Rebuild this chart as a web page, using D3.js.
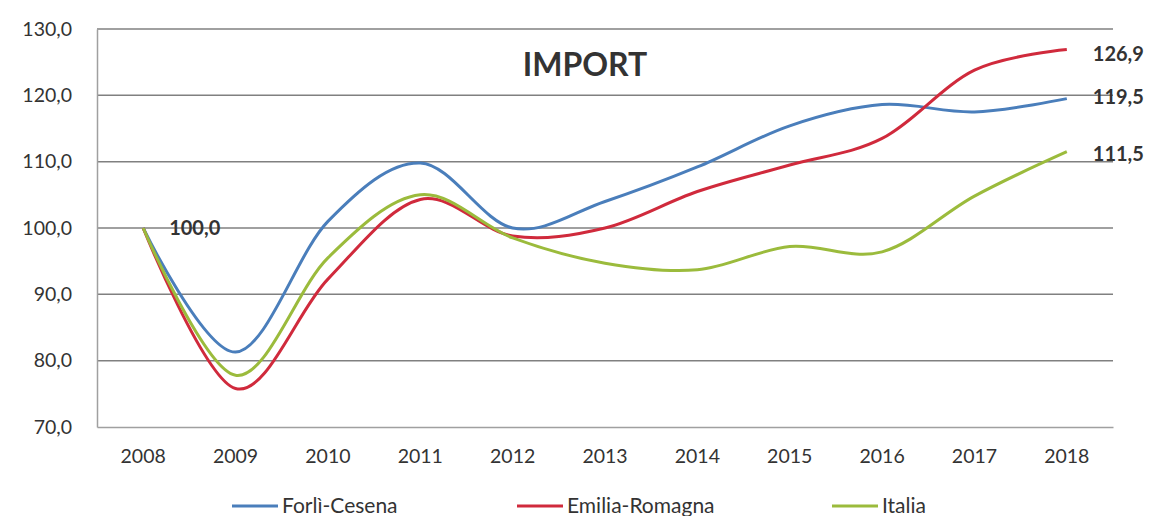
<!DOCTYPE html>
<html>
<head>
<meta charset="utf-8">
<script src="https://cdn.jsdelivr.net/npm/d3@7"></script>
<style>
  body { margin: 0; background: #fff; }
  text { font-family: Lato, "Open Sans", sans-serif; fill: #333; }
</style>
</head>
<body>
<div id="chart"></div>
<script>
// Set size constants
var totWidth = 1158,
    totHeight = 516;
var margins = {top: 29, right: 45, bottom: 89, left: 97};
var width = totWidth - margins.left - margins.right,
    height = totHeight - margins.top - margins.bottom;

// Data
var years = ["2008","2009","2010","2011","2012","2013","2014","2015","2016","2017","2018"];
var forliCesena   = [100, 81.3, 101.0, 109.8, 100.0, 104.0, 109.2, 115.4, 118.6, 117.5, 119.5];
var emiliaRomagna = [100, 75.8, 92.3, 104.3, 98.8, 100.0, 105.5, 109.5, 113.5, 123.8, 126.9];
var italia        = [100, 77.8, 95.5, 105.0, 98.5, 94.7, 93.7, 97.2, 96.4, 104.8, 111.5];
var seriesNames = ["Forlì-Cesena", "Emilia-Romagna", "Italia"];
var yTicks = [70, 80, 90, 100, 110, 120, 130];

var series = [
  {name: seriesNames[0], values: forliCesena,   color: "#4a7ebb"},
  {name: seriesNames[1], values: emiliaRomagna, color: "#d02a3c"},
  {name: seriesNames[2], values: italia,        color: "#9bbb3c"}
];

var fmt = function(v) { return d3.format(".1f")(v).replace(".", ","); };

var svg = d3.select("#chart")
  .append("svg")
    .attr("width", totWidth)
    .attr("height", totHeight)
  .append("g")
    .attr("transform", "translate(" + margins.left + "," + margins.top + ")");

var x = d3.scaleBand()
  .domain(years)
  .range([0, width]);

var y = d3.scaleLinear()
  .domain([70, 130])
  .range([height, 0]);

// grid lines
svg.append("g")
  .selectAll("line")
  .data(yTicks.slice(1))
  .enter()
  .append("line")
    .attr("x1", 0)
    .attr("x2", width)
    .attr("y1", function(d) { return y(d); })
    .attr("y2", function(d) { return y(d); })
    .attr("stroke", "#808080")
    .attr("stroke-width", 1.5);

// Y axis
var yAxis = svg.append("g")
  .call(d3.axisLeft(y)
    .tickValues(yTicks)
    .tickSize(0)
    .tickPadding(25)
    .tickFormat(fmt));
yAxis.select(".domain").attr("stroke", "#a0a0a0").attr("stroke-width", 1.5);
yAxis.selectAll("text").style("font-size", "19.5px").attr("fill", "#444");

// X axis
var xAxis = svg.append("g")
  .attr("transform", "translate(0," + height + ")")
  .call(d3.axisBottom(x).tickSize(0).tickPadding(22));
xAxis.select(".domain").attr("stroke", "#a0a0a0").attr("stroke-width", 1.5);
xAxis.selectAll("text").style("font-size", "19.5px").attr("fill", "#444");

// Title
svg.append("text")
  .attr("x", 488)
  .attr("y", 47)
  .attr("text-anchor", "middle")
  .style("font-size", "32px")
  .style("font-weight", "bold")
  .attr("fill", "#111")
  .text("IMPORT");

// Lines
var line = d3.line()
  .x(function(d, i) { return x(years[i]) + x.bandwidth() / 2; })
  .y(function(d) { return y(d); })
  .curve(d3.curveCardinal.tension(0));

svg.selectAll("path.series")
  .data(series)
  .enter()
  .append("path")
    .attr("class", "series")
    .attr("fill", "none")
    .attr("stroke", function(d) { return d.color; })
    .attr("stroke-width", 3)
    .attr("d", function(d) { return line(d.values); });

// Data labels
svg.append("text")
  .attr("x", x(years[0]) + x.bandwidth() / 2 + 26)
  .attr("y", y(100))
  .attr("dy", "0.35em")
  .style("font-size", "20px")
  .style("font-weight", "bold")
  .attr("fill", "#111")
  .text(fmt(100));

var lastIdx = years.length - 1;
var endOffsets = [-2, 4, 2];
series.forEach(function(s, i) {
  svg.append("text")
    .attr("x", x(years[lastIdx]) + x.bandwidth() / 2 + 26)
    .attr("y", y(s.values[lastIdx]) + endOffsets[i])
    .attr("dy", "0.35em")
    .style("font-size", "20px")
    .style("font-weight", "bold")
    .attr("fill", "#111")
    .text(fmt(s.values[lastIdx]));
});

// Legend
var legendX = [135, 420, 735];
var legend = svg.append("g")
  .attr("transform", "translate(0," + (height + 79) + ")");
series.forEach(function(s, i) {
  legend.append("line")
    .attr("x1", legendX[i])
    .attr("x2", legendX[i] + 46)
    .attr("y1", 0)
    .attr("y2", 0)
    .attr("stroke", s.color)
    .attr("stroke-width", 3);
  legend.append("text")
    .attr("x", legendX[i] + 50)
    .attr("y", 0)
    .attr("dy", "0.35em")
    .style("font-size", "21px")
    .attr("fill", "#444")
    .text(s.name);
});
</script>
</body>
</html>
